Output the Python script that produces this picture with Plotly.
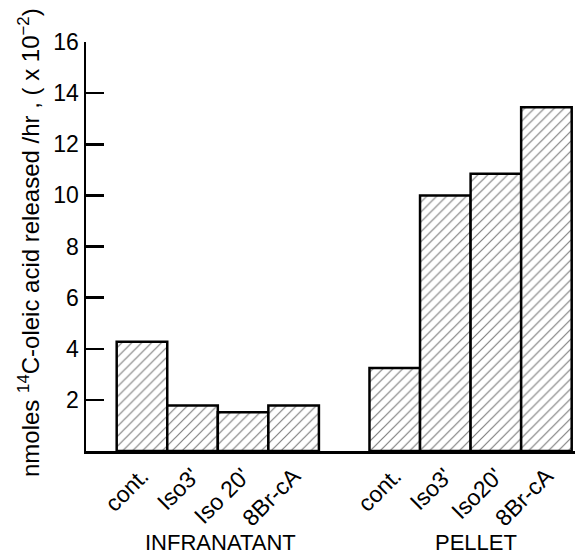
import plotly.graph_objects as go

# ---- data ----
groups = ["INFRANATANT", "PELLET"]
infranatant_labels = ["cont.", "Iso3'", "Iso 20'", "8Br-cA"]
pellet_labels = ["cont.", "Iso3'", "Iso20'", "8Br-cA"]
infranatant_values = [4.27, 1.78, 1.52, 1.78]
pellet_values = [3.25, 10.0, 10.85, 13.45]
y_tick_values = [2, 4, 6, 8, 10, 12, 14, 16]

# bar positions (one unit per bar, one empty slot between groups)
infra_x = [0, 1, 2, 3]
pellet_x = [5, 6, 7, 8]

FONT = "Liberation Sans"

bar_style = dict(
    marker=dict(
        color="white",
        line=dict(color="black", width=2.5),
        pattern=dict(shape="/", fgcolor="black", bgcolor="white", size=7, solidity=0.17),
    ),
    width=1.0,
    showlegend=False,
    hoverinfo="skip",
)

fig = go.Figure()
fig.add_trace(go.Bar(x=infra_x, y=infranatant_values, name=groups[0], **bar_style))
fig.add_trace(go.Bar(x=pellet_x, y=pellet_values, name=groups[1], **bar_style))

fig.update_layout(
    width=577,
    height=556,
    margin=dict(l=86, r=2, t=42, b=105, autoexpand=False),
    paper_bgcolor="white",
    plot_bgcolor="white",
    font=dict(family=FONT, color="black"),
    bargap=0,
)

fig.update_xaxes(
    range=[-1.107, 8.565],
    tickmode="array",
    tickvals=infra_x + pellet_x,
    ticktext=infranatant_labels + pellet_labels,
    tickangle=-45,
    ticks="",
    tickfont=dict(size=23, family=FONT),
    showline=True,
    linecolor="black",
    linewidth=2.5,
    showgrid=False,
    zeroline=False,
    fixedrange=True,
    automargin=False,
)

fig.update_yaxes(
    range=[0, 16],
    tickmode="array",
    tickvals=y_tick_values,
    ticktext=[str(v) for v in y_tick_values],
    ticks="inside",
    ticklen=18,
    tickwidth=2.5,
    tickcolor="black",
    tickfont=dict(size=23, family=FONT),
    showline=True,
    linecolor="black",
    linewidth=2.5,
    showgrid=False,
    zeroline=False,
    fixedrange=True,
    automargin=False,
)

# y-axis title
fig.add_annotation(
    text="nmoles <sup>14</sup>C-oleic acid released /hr , ( x 10<sup>−2</sup>)",
    xref="paper", yref="paper",
    x=(29 - 86) / 489, y=(451 - 243) / 409,
    xanchor="center", yanchor="middle",
    textangle=-90,
    showarrow=False,
    font=dict(size=24, family=FONT, color="black"),
)

# group labels
fig.add_annotation(
    text=groups[0], xref="x", yref="paper",
    x=sum(infra_x) / len(infra_x) + 0.05, y=(451 - 542) / 409,
    xanchor="center", yanchor="middle", showarrow=False,
    font=dict(size=22, family=FONT, color="black"),
)
fig.add_annotation(
    text=groups[1], xref="x", yref="paper",
    x=sum(pellet_x) / len(pellet_x) + 0.1, y=(451 - 542) / 409,
    xanchor="center", yanchor="middle", showarrow=False,
    font=dict(size=22, family=FONT, color="black"),
)

fig.write_html(
    "out.html",
    config={"displayModeBar": False, "staticPlot": True},
    post_script="document.body.style.margin='0';",
)
